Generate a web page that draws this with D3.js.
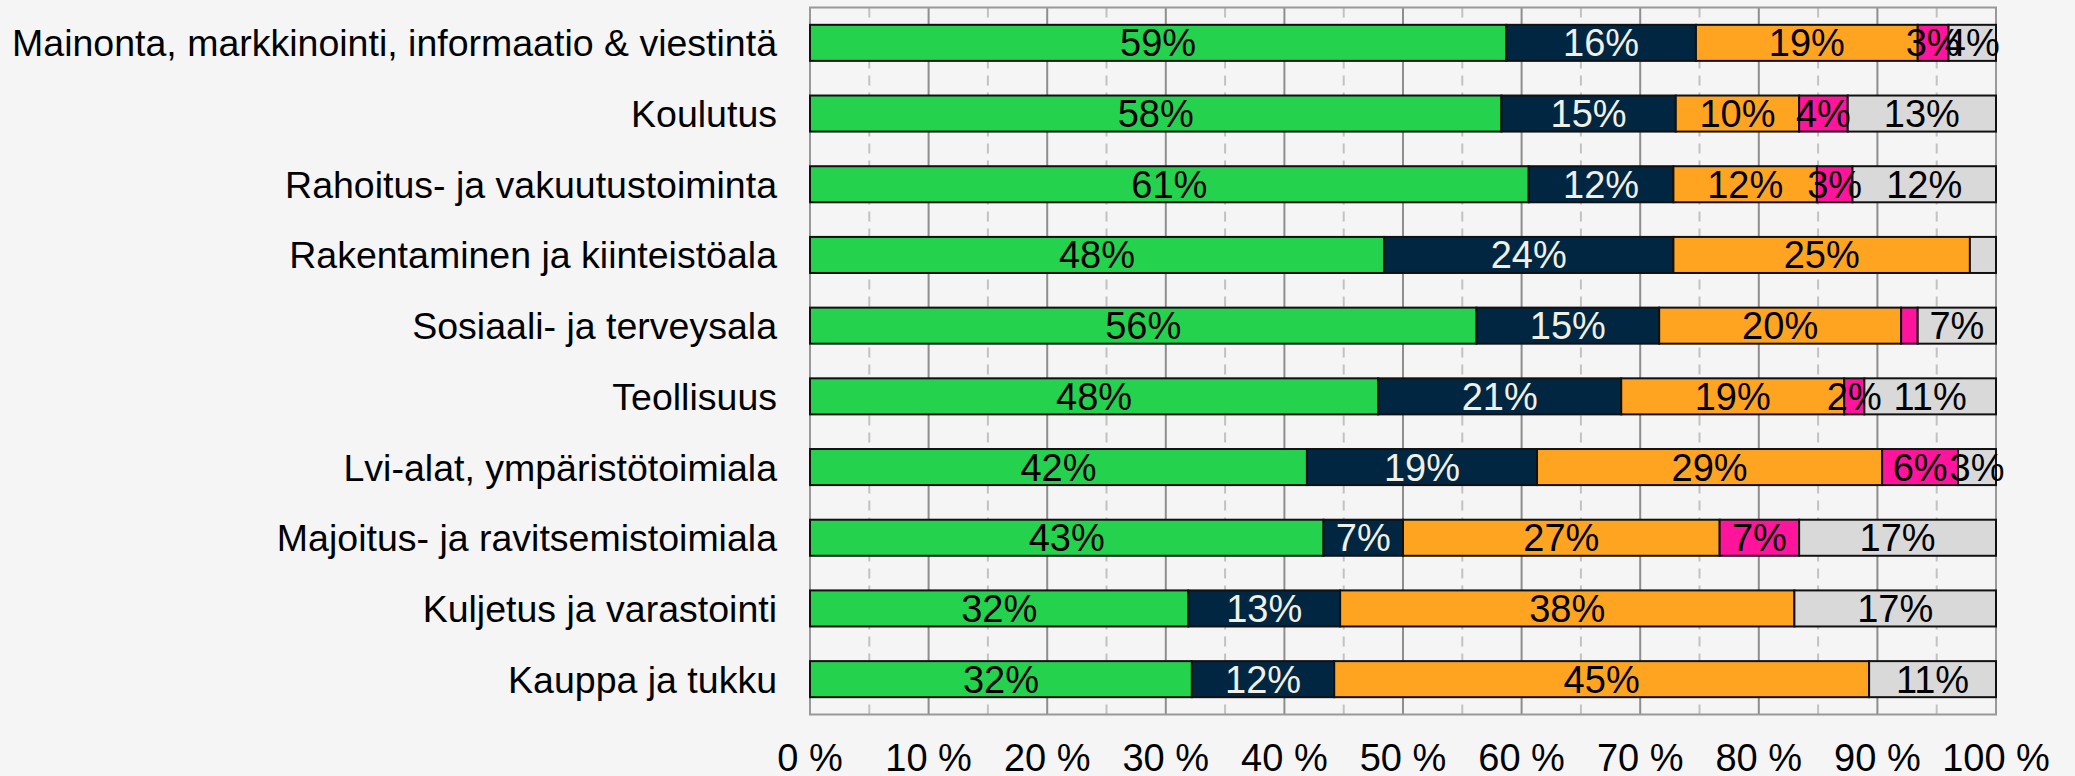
<!DOCTYPE html>
<html>
<head>
<meta charset="utf-8">
<script src="https://cdn.jsdelivr.net/npm/d3@7"></script>
<style>
  html, body { margin: 0; padding: 0; background: #f5f5f5; }
  svg { display: block; font-family: "Liberation Sans", Arial, sans-serif; }
</style>
</head>
<body>
<svg id="chart" width="2075" height="776"></svg>
<script>
var categories = [
    "Mainonta, markkinointi, informaatio & viestintä",
    "Koulutus",
    "Rahoitus- ja vakuutustoiminta",
    "Rakentaminen ja kiinteistöala",
    "Sosiaali- ja terveysala",
    "Teollisuus",
    "Lvi-alat, ympäristötoimiala",
    "Majoitus- ja ravitsemistoimiala",
    "Kuljetus ja varastointi",
    "Kauppa ja tukku"
];

// share per category (percent)
var green  = [58.7, 58.3, 60.6, 48.4, 56.2, 47.9, 41.9, 43.3, 31.9, 32.2],
    navy   = [16.0, 14.7, 12.2, 24.4, 15.4, 20.5, 19.4,  6.7, 12.8, 12.0],
    orange = [18.7, 10.4, 12.1, 25.0, 20.4, 18.8, 29.1, 26.7, 38.3, 45.1],
    pink   = [ 2.6,  4.1,  3.0,  0.0,  1.4,  1.7,  6.4,  6.7,  0.0,  0.0],
    grey   = [ 4.0, 12.5, 12.1,  2.2,  6.6, 11.1,  3.2, 16.6, 17.0, 10.7];

var series = [green, navy, orange, pink, grey],
    seriesColors = ["#24d24e", "#002641", "#ffa421", "#ff149b", "#d9d9d9"],
    labelColors = ["#000", "#f2f0e4", "#000", "#000", "#000"];

// labels that were removed in the original  [row, series]
var hiddenLabels = [[3, 4], [4, 3]];

var xTicks = [0, 10, 20, 30, 40, 50, 60, 70, 80, 90, 100],
    xMinor = [5, 15, 25, 35, 45, 55, 65, 75, 85, 95];

var W = 2075, H = 776,
    pLeft = 810, pRight = 1996, pTop = 7.5, pBottom = 714.5,
    fsCat = 37.5, fsVal = 38, fsTick = 38;

var svg = d3.select("#chart");

svg.append("rect").attr("width", W).attr("height", H).attr("fill", "#f5f5f5");

var x = d3.scaleLinear().domain([0, 100]).range([pLeft, pRight]);
var y = d3.scaleBand().domain(categories).range([pTop, pBottom])
    .paddingInner(0.49).paddingOuter(0.245);

// grid
svg.append("g").selectAll("line").data(xMinor).enter().append("line")
    .attr("x1", d => x(d)).attr("x2", d => x(d))
    .attr("y1", pTop).attr("y2", pBottom)
    .attr("stroke", "#c2c2c2").attr("stroke-width", 2)
    .attr("stroke-dasharray", "10,7");

svg.append("g").selectAll("line").data(xTicks).enter().append("line")
    .attr("x1", d => x(d)).attr("x2", d => x(d))
    .attr("y1", pTop).attr("y2", pBottom)
    .attr("stroke", "#8e8e8e").attr("stroke-width", 2);

svg.append("rect")
    .attr("x", pLeft).attr("y", pTop)
    .attr("width", pRight - pLeft).attr("height", pBottom - pTop)
    .attr("fill", "none").attr("stroke", "#999").attr("stroke-width", 2);

// stacked bars
var segs = [];
categories.forEach(function (c, i) {
    var acc = 0;
    series.forEach(function (s, j) {
        var v = s[i];
        if (v > 0) segs.push({cat: c, row: i, ser: j, x0: acc, x1: acc + v, v: v});
        acc += v;
    });
});

svg.append("g").selectAll("rect").data(segs).enter().append("rect")
    .attr("x", d => x(d.x0))
    .attr("y", d => y(d.cat))
    .attr("width", d => x(d.x1) - x(d.x0))
    .attr("height", y.bandwidth())
    .attr("fill", d => seriesColors[d.ser])
    .attr("stroke", "#111")
    .attr("stroke-width", 2);

function isHidden(d) {
    return hiddenLabels.some(h => h[0] == d.row && h[1] == d.ser);
}

svg.append("g").selectAll("text").data(segs.filter(d => !isHidden(d))).enter().append("text")
    .attr("x", d => (x(d.x0) + x(d.x1)) / 2)
    .attr("y", d => y(d.cat) + y.bandwidth() / 2 + 13.5)
    .attr("text-anchor", "middle")
    .attr("font-size", fsVal)
    .attr("fill", d => labelColors[d.ser])
    .text(d => Math.round(d.v) + "%");

// category labels
svg.append("g").selectAll("text").data(categories).enter().append("text")
    .attr("x", 777)
    .attr("y", d => y(d) + y.bandwidth() / 2 + 13.5)
    .attr("text-anchor", "end")
    .attr("font-size", fsCat)
    .attr("fill", "#000")
    .text(d => d);

// x tick labels
svg.append("g").selectAll("text").data(xTicks).enter().append("text")
    .attr("x", d => x(d))
    .attr("y", 771)
    .attr("text-anchor", "middle")
    .attr("font-size", fsTick)
    .attr("fill", "#000")
    .text(d => d + " %");
</script>
</body>
</html>
